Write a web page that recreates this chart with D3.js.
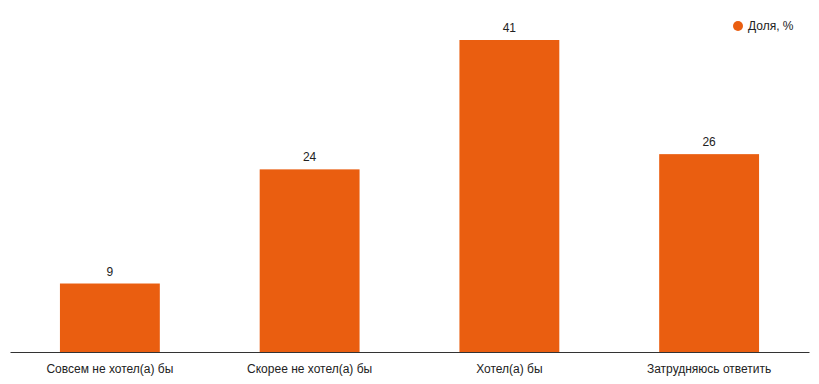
<!DOCTYPE html>
<html>
<head>
<meta charset="utf-8">
<script src="https://cdn.jsdelivr.net/npm/d3@7"></script>
<style>
  body { margin: 0; background: #fff; }
  svg { display: block; font-family: Arial, "Liberation Sans", sans-serif; }
</style>
</head>
<body>
<div id="chart"></div>
<script>
const categories = ["Совсем не хотел(а) бы", "Скорее не хотел(а) бы", "Хотел(а) бы", "Затрудняюсь ответить"]
const values = [9, 24, 41, 26]
const seriesName = "Доля, %"

const width = 819, height = 384
const color = "#ea5e10"

const svg = d3.select("#chart").append("svg")
    .attr("width", width)
    .attr("height", height)

const x = d3.scaleBand()
    .domain(categories)
    .range([10, 809])
    .paddingInner(0.5)
    .paddingOuter(0.25)

const y = d3.scaleLinear()
    .domain([0, 41])
    .range([352, 40])

// bars
svg.append("g")
    .selectAll("rect")
    .data(values)
    .enter()
    .append("rect")
    .attr("x", (d, i) => x(categories[i]))
    .attr("y", d => y(d))
    .attr("width", x.bandwidth())
    .attr("height", d => y(0) - y(d))
    .attr("fill", color)

// value labels
svg.append("g")
    .selectAll("text")
    .data(values)
    .enter()
    .append("text")
    .attr("x", (d, i) => x(categories[i]) + x.bandwidth() / 2)
    .attr("y", d => y(d) - 8)
    .attr("text-anchor", "middle")
    .attr("font-size", 12)
    .attr("fill", "#222")
    .text(d => d)

// x axis
const axis = svg.append("g")
    .attr("transform", "translate(0," + y(0) + ")")
    .call(d3.axisBottom(x).tickSize(0).tickPadding(12))
axis.select(".domain").attr("stroke", "#333").attr("stroke-width", 1)
axis.selectAll("text")
    .attr("font-size", 12)
    .attr("fill", "#222")
    .attr("font-family", "Arial, 'Liberation Sans', sans-serif")

// legend
const legend = svg.append("g").attr("transform", "translate(738,26)")
legend.append("circle").attr("r", 5).attr("fill", color)
legend.append("text")
    .attr("x", 10)
    .attr("y", 4)
    .attr("font-size", 12)
    .attr("fill", "#222")
    .text(seriesName)
</script>
</body>
</html>
